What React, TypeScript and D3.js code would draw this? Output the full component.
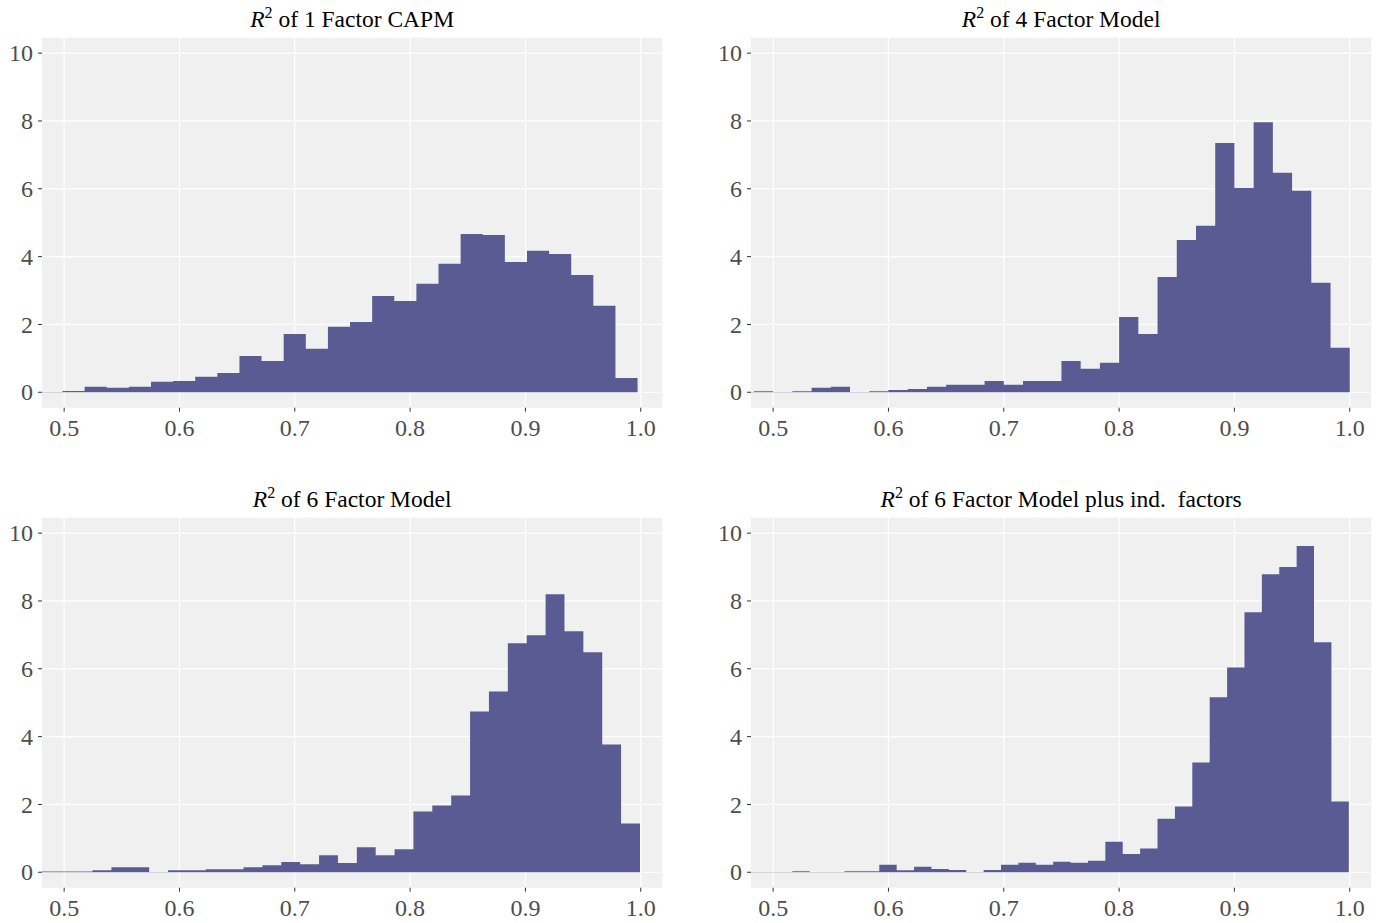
import React from "react";
import * as d3 from "d3";

// histogram densities
const titles = ["1 Factor CAPM", "4 Factor Model", "6 Factor Model", "6 Factor Model plus ind.  factors"];
const binStarts = [0.4794, 0.46667, 0.4755, 0.4714];
const binWidths = [0.01918, 0.016667, 0.01637, 0.01508];

const capm = [0.01, 0.04, 0.16, 0.13, 0.16, 0.31, 0.33, 0.46, 0.57, 1.07, 0.92, 1.72, 1.28, 1.93, 2.07, 2.84, 2.69, 3.2, 3.79, 4.67, 4.64, 3.84, 4.17, 4.08, 3.46, 2.55, 0.42];
const ff4 = [0.01, 0.03, 0.01, 0.03, 0.13, 0.16, 0.01, 0.03, 0.07, 0.1, 0.16, 0.22, 0.22, 0.33, 0.22, 0.33, 0.33, 0.92, 0.69, 0.87, 2.22, 1.72, 3.4, 4.49, 4.91, 7.35, 6.02, 7.96, 6.47, 5.94, 3.23, 1.31];
const ff6 = [0.02, 0.02, 0.02, 0.06, 0.15, 0.15, 0.01, 0.06, 0.06, 0.09, 0.09, 0.15, 0.21, 0.3, 0.24, 0.5, 0.27, 0.74, 0.5, 0.68, 1.79, 1.97, 2.26, 4.74, 5.33, 6.75, 6.99, 8.2, 7.11, 6.49, 3.77, 1.44];
const ff6ind = [0.01, 0.01, 0.01, 0.03, 0.01, 0.01, 0.03, 0.03, 0.22, 0.06, 0.16, 0.1, 0.07, 0.01, 0.07, 0.22, 0.28, 0.22, 0.31, 0.28, 0.34, 0.9, 0.54, 0.7, 1.58, 1.94, 3.24, 5.16, 6.04, 7.67, 8.79, 9.0, 9.62, 6.78, 2.09];
const series = [capm, ff4, ff6, ff6ind];

const xTicks = [0.5, 0.6, 0.7, 0.8, 0.9, 1.0];
const yTicks = [0, 2, 4, 6, 8, 10];

const W = 1379;
const H = 923;
const colLeft = [42, 751];
const rowTop = [37.7, 517.7];
const pw = 620.3;
const ph = 370;
const font = "'Liberation Serif', 'Times New Roman', serif";
const barColor = "#5b5b93";

function Panel({ idx }: { idx: number }) {
  const left = colLeft[idx % 2];
  const top = rowTop[Math.floor(idx / 2)];
  const x = d3.scaleLinear().domain([0.4808, 1.0187]).range([left, left + pw]);
  const y = d3.scaleLinear().domain([-0.455, 10.455]).range([top + ph, top]);
  const counts = series[idx];
  // one step outline per histogram, so neighbouring bars have no seams
  const pts = counts.map((c, i) => ({ x: binStarts[idx] + i * binWidths[idx], c }));
  pts.push({ x: binStarts[idx] + counts.length * binWidths[idx], c: counts[counts.length - 1] });
  const area = d3
    .area<{ x: number; c: number }>()
    .x((d) => x(d.x))
    .y0(y(0))
    .y1((d) => y(d.c))
    .curve(d3.curveStepAfter);
  const clipId = `clip-${idx}`;
  return (
    <g>
      <defs>
        <clipPath id={clipId}>
          <rect x={left} y={top} width={pw} height={ph} />
        </clipPath>
      </defs>
      <rect x={left} y={top} width={pw} height={ph} fill="#f0f0f0" />
      {xTicks.map((t) => (
        <line key={"gx" + t} x1={x(t)} x2={x(t)} y1={top} y2={top + ph} stroke="#fff" strokeWidth={1.2} />
      ))}
      {yTicks.map((t) => (
        <line key={"gy" + t} x1={left} x2={left + pw} y1={y(t)} y2={y(t)} stroke="#fff" strokeWidth={1.2} />
      ))}
      <g clipPath={`url(#${clipId})`}>
        <path d={area(pts) || ""} fill={barColor} />
      </g>
      {xTicks.map((t) => (
        <g key={"tx" + t}>
          <line x1={x(t)} x2={x(t)} y1={top + ph} y2={top + ph + 4} stroke="#333" strokeWidth={1} />
          <text x={x(t)} y={top + ph + 28.5} textAnchor="middle" fontSize={24} fill="#4d4d4d" fontFamily={font}>
            {t.toFixed(1)}
          </text>
        </g>
      ))}
      {yTicks.map((t) => (
        <g key={"ty" + t}>
          <line x1={left - 4} x2={left} y1={y(t)} y2={y(t)} stroke="#333" strokeWidth={1} />
          <text x={left - 9} y={y(t)} dy="0.34em" textAnchor="end" fontSize={24} fill="#4d4d4d" fontFamily={font}>
            {t}
          </text>
        </g>
      ))}
      <text
        x={left + pw / 2}
        y={top - 11}
        textAnchor="middle"
        fontSize={23.5}
        fill="#000"
        fontFamily={font}
        style={{ whiteSpace: "pre" }}
      >
        <tspan fontStyle="italic">R</tspan>
        <tspan dy={-9} fontSize={16}>2</tspan>
        <tspan dy={9}>{" of " + titles[idx]}</tspan>
      </text>
    </g>
  );
}

export default function App() {
  return (
    <svg
      width={W}
      height={H}
      viewBox={`0 0 ${W} ${H}`}
      style={{ position: "absolute", left: 0, top: 0, background: "#fff" }}
    >
      <rect width={W} height={H} fill="#fff" />
      {[0, 1, 2, 3].map((i) => (
        <Panel key={i} idx={i} />
      ))}
    </svg>
  );
}
